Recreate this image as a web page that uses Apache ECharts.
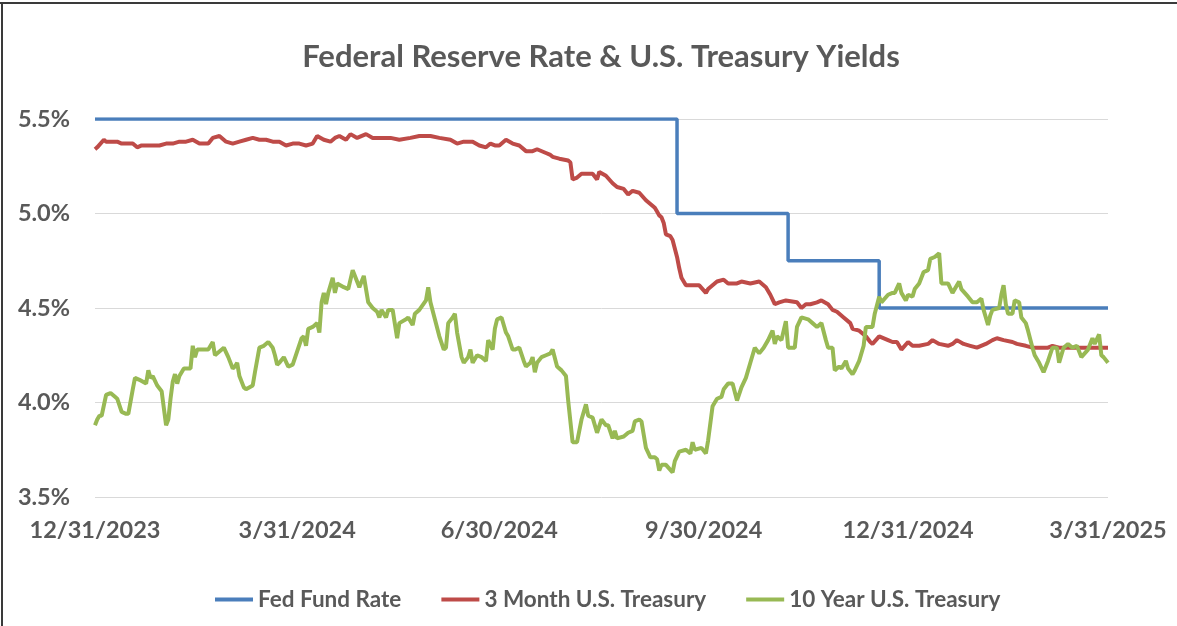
<!DOCTYPE html>
<html>
<head>
<meta charset="utf-8">
<script src="https://cdn.jsdelivr.net/npm/echarts@6/dist/echarts.min.js"></script>
<style>
    html, body { margin: 0; padding: 0; background: #fff; }
    #main { width: 1177px; height: 626px; }
</style>
</head>
<body>
<div id="main"></div>
<script>
// quarter-end ticks
var tickDates = ["2023-12-31", "2024-03-31", "2024-06-30", "2024-09-30", "2024-12-31", "2025-03-31"];

// Fed fund rate (upper bound), changes on FOMC dates
var fedDates = ["2023-12-31", "2024-09-18", "2024-11-07", "2024-12-18", "2025-03-31"];
var fedRates = [5.5, 5.0, 4.75, 4.5, 4.5];

// 3 month treasury, days counted from 12/31/2023
var threeMonthDays = [0, 1, 4, 5, 8, 10, 12, 14, 17, 19, 21, 23, 26, 29, 32, 35, 38, 41, 44, 47,
    51, 53, 56, 59, 62, 65, 68, 71, 74, 77, 80, 83, 86, 89, 92, 95, 98, 100, 103, 106,
    108, 110, 113, 115, 118, 122, 125, 128, 133, 137, 142, 146, 151, 155, 160, 163, 166, 170, 173, 176,
    178, 180, 182, 185, 188, 191, 194, 197, 199, 203, 205, 206, 209, 213, 214, 215, 217, 219, 221, 224,
    226, 227, 230, 233, 235, 238, 240, 242, 245, 248, 250, 252, 253, 254, 255, 256, 257, 259, 260, 262,
    263, 264, 266, 269, 272, 275, 276, 278, 280, 283, 285, 289, 291, 295, 299, 302, 304, 306, 308, 311,
    316, 318, 320, 322, 325, 327, 330, 332, 334, 337, 340, 341, 344, 347, 349, 350, 353, 357, 359, 361,
    363, 366, 368, 371, 375, 377, 380, 384, 386, 388, 391, 394, 397, 401, 404, 406, 409, 413, 415, 419,
    422, 425, 429, 431, 434, 438, 442, 447, 451, 456];
var threeMonthRates = [5.34, 5.35, 5.39, 5.38, 5.38, 5.38, 5.37, 5.37, 5.37, 5.35, 5.36, 5.36, 5.36, 5.36, 5.37, 5.37, 5.38, 5.38, 5.39, 5.37,
    5.37, 5.40, 5.41, 5.38, 5.37, 5.38, 5.39, 5.40, 5.39, 5.39, 5.38, 5.38, 5.36, 5.37, 5.37, 5.36, 5.37, 5.41, 5.39, 5.38,
    5.40, 5.41, 5.39, 5.42, 5.40, 5.42, 5.40, 5.40, 5.40, 5.39, 5.40, 5.41, 5.41, 5.40, 5.39, 5.37, 5.38, 5.38, 5.36, 5.35,
    5.37, 5.36, 5.36, 5.39, 5.37, 5.36, 5.33, 5.33, 5.34, 5.32, 5.31, 5.30, 5.29, 5.28, 5.27, 5.18, 5.19, 5.21, 5.21, 5.21,
    5.18, 5.22, 5.20, 5.16, 5.14, 5.13, 5.10, 5.12, 5.11, 5.07, 5.05, 5.03, 5.01, 4.99, 4.98, 4.95, 4.89, 4.88, 4.86, 4.77,
    4.71, 4.66, 4.62, 4.62, 4.62, 4.58, 4.60, 4.62, 4.64, 4.65, 4.63, 4.63, 4.64, 4.63, 4.64, 4.61, 4.57, 4.52, 4.53, 4.54,
    4.53, 4.50, 4.52, 4.52, 4.53, 4.54, 4.52, 4.49, 4.48, 4.45, 4.42, 4.39, 4.38, 4.35, 4.32, 4.31, 4.35, 4.33, 4.32, 4.32,
    4.28, 4.32, 4.30, 4.30, 4.31, 4.33, 4.31, 4.30, 4.31, 4.33, 4.31, 4.30, 4.29, 4.31, 4.33, 4.34, 4.33, 4.32, 4.31, 4.30,
    4.29, 4.29, 4.29, 4.30, 4.29, 4.29, 4.29, 4.29, 4.29, 4.29];

// 10 year treasury, days counted from 12/31/2023
var tenYearDays = [0, 1, 2, 3, 5, 7, 9, 10, 12, 14, 15, 17, 18, 20, 23, 24, 25, 26, 28, 30,
    32, 33, 34, 35, 36, 37, 38, 40, 43, 44, 45, 46, 49, 51, 53, 54, 56, 58, 60, 62,
    63, 64, 65, 67, 68, 71, 72, 74, 76, 78, 80, 81, 82, 83, 85, 87, 89, 91, 93, 94,
    95, 96, 98, 100, 101, 102, 103, 104, 105, 107, 108, 109, 112, 114, 116, 119, 121, 123, 125, 127,
    128, 129, 131, 132, 134, 136, 137, 140, 141, 143, 144, 146, 149, 150, 151, 153, 155, 157, 158, 159,
    161, 162, 163, 165, 166, 168, 169, 170, 172, 174, 176, 177, 179, 180, 181, 183, 185, 186, 188, 189,
    191, 193, 194, 196, 197, 198, 199, 201, 203, 205, 206, 208, 210, 212, 213, 215, 217, 219, 221, 222,
    224, 226, 228, 230, 231, 233, 234, 235, 238, 240, 242, 243, 245, 246, 248, 250, 252, 253, 254, 255,
    257, 260, 261, 263, 266, 268, 269, 270, 273, 275, 276, 278, 280, 282, 283, 285, 287, 289, 291, 293,
    295, 297, 299, 301, 303, 305, 306, 307, 309, 311, 312, 313, 315, 316, 318, 321, 323, 325, 327, 329,
    330, 332, 333, 335, 336, 338, 339, 341, 342, 344, 346, 347, 350, 351, 353, 354, 357, 359, 360, 362,
    363, 365, 366, 368, 369, 371, 373, 375, 376, 378, 380, 381, 383, 384, 386, 389, 390, 393, 395, 397,
    399, 400, 402, 403, 404, 407, 408, 409, 410, 411, 413, 414, 416, 417, 419, 420, 422, 423, 425, 427,
    429, 431, 433, 434, 436, 438, 440, 442, 444, 447, 449, 450, 452, 453, 454, 456];
var tenYearRates = [3.88, 3.91, 3.93, 3.93, 4.04, 4.05, 4.03, 4.02, 3.95, 3.94, 3.94, 4.07, 4.13, 4.12, 4.10, 4.17, 4.13, 4.14, 4.09, 4.06,
    3.88, 3.91, 4.02, 4.11, 4.15, 4.10, 4.14, 4.18, 4.18, 4.30, 4.24, 4.28, 4.28, 4.28, 4.32, 4.25, 4.27, 4.29, 4.24, 4.18,
    4.19, 4.21, 4.14, 4.08, 4.07, 4.09, 4.16, 4.29, 4.30, 4.32, 4.29, 4.25, 4.20, 4.21, 4.24, 4.19, 4.20, 4.27, 4.34, 4.35,
    4.30, 4.39, 4.40, 4.42, 4.37, 4.53, 4.58, 4.52, 4.58, 4.66, 4.58, 4.63, 4.61, 4.60, 4.70, 4.61, 4.67, 4.53, 4.50, 4.48,
    4.45, 4.49, 4.45, 4.49, 4.49, 4.34, 4.42, 4.44, 4.45, 4.41, 4.47, 4.49, 4.54, 4.61, 4.53, 4.44, 4.35, 4.28, 4.29, 4.42,
    4.45, 4.47, 4.37, 4.24, 4.21, 4.24, 4.28, 4.21, 4.25, 4.24, 4.22, 4.33, 4.28, 4.39, 4.44, 4.45, 4.37, 4.35, 4.28, 4.28,
    4.29, 4.22, 4.19, 4.21, 4.24, 4.16, 4.21, 4.24, 4.25, 4.26, 4.28, 4.19, 4.17, 4.14, 4.01, 3.79, 3.79, 3.91, 3.99, 3.93,
    3.92, 3.84, 3.91, 3.88, 3.88, 3.81, 3.85, 3.81, 3.82, 3.84, 3.85, 3.90, 3.91, 3.90, 3.76, 3.71, 3.71, 3.70, 3.64, 3.67,
    3.67, 3.63, 3.69, 3.74, 3.75, 3.73, 3.79, 3.75, 3.76, 3.73, 3.80, 3.98, 4.02, 4.03, 4.07, 4.10, 4.10, 4.01, 4.08, 4.13,
    4.21, 4.29, 4.26, 4.29, 4.33, 4.38, 4.31, 4.35, 4.33, 4.43, 4.29, 4.29, 4.29, 4.40, 4.45, 4.44, 4.42, 4.40, 4.42, 4.33,
    4.29, 4.29, 4.17, 4.19, 4.18, 4.22, 4.18, 4.15, 4.17, 4.22, 4.30, 4.40, 4.40, 4.47, 4.56, 4.53, 4.57, 4.58, 4.58, 4.63,
    4.58, 4.54, 4.57, 4.56, 4.60, 4.63, 4.69, 4.70, 4.76, 4.77, 4.79, 4.63, 4.63, 4.63, 4.58, 4.64, 4.60, 4.56, 4.53, 4.53,
    4.55, 4.49, 4.41, 4.46, 4.49, 4.50, 4.57, 4.62, 4.52, 4.47, 4.47, 4.54, 4.53, 4.45, 4.42, 4.38, 4.29, 4.25, 4.21, 4.16,
    4.22, 4.29, 4.29, 4.21, 4.29, 4.31, 4.29, 4.30, 4.24, 4.28, 4.34, 4.31, 4.36, 4.25, 4.24, 4.21];

var textColor = "#595959";
var fontName = "Lato, 'Open Sans', sans-serif";

// day number counted from 12/31/2023
function dateToDay(s) {
    var p = s.split("-");
    return Math.round((Date.UTC(+p[0], +p[1] - 1, +p[2]) - Date.UTC(2023, 11, 31)) / 86400000);
}

function dayLabel(d) {
    var t = new Date(Date.UTC(2023, 11, 31 + Math.round(d)));
    return (t.getUTCMonth() + 1) + "/" + t.getUTCDate() + "/" + t.getUTCFullYear();
}

function pairs(xs, ys) {
    var out = [];
    xs.forEach(function (x, i) {
        out.push([x, ys[i]]);
    });
    return out;
}

var tickDays = tickDates.map(dateToDay);
var chart = echarts.init(document.getElementById("main"), null, {renderer: "canvas"});

var option = {
    animation: false,
    backgroundColor: "#fff",
    color: ["#4a7ebb", "#be4b48", "#98b954"],
    title: {
        text: "Federal Reserve Rate & U.S. Treasury Yields",
        left: 596,
        textAlign: "center",
        top: 36,
        textStyle: {
            color: textColor,
            fontFamily: fontName,
            fontWeight: "bold",
            fontSize: 31
        }
    },
    legend: {
        bottom: 10,
        left: 210,
        icon: "rect",
        itemWidth: 38,
        itemHeight: 4,
        itemGap: 40,
        textStyle: {
            color: textColor,
            fontFamily: fontName,
            fontWeight: "bold",
            fontSize: 22.5
        },
        data: ["Fed Fund Rate", "3 Month U.S. Treasury", "10 Year U.S. Treasury"]
    },
    grid: {
        left: 95,
        right: 69,
        top: 119,
        bottom: 129
    },
    xAxis: {
        type: "value",
        min: tickDays[0],
        max: tickDays[tickDays.length - 1],
        axisLine: {show: false},
        axisTick: {show: false},
        splitLine: {show: false},
        axisLabel: {
            customValues: tickDays,
            showMinLabel: true,
            showMaxLabel: true,
            margin: 21,
            color: textColor,
            fontFamily: fontName,
            fontWeight: "bold",
            fontSize: 23.5,
            formatter: dayLabel
        }
    },
    yAxis: {
        type: "value",
        min: 3.5,
        max: 5.5,
        interval: 0.5,
        axisLine: {show: false},
        axisTick: {show: false},
        splitLine: {lineStyle: {color: "#d9d9d9", width: 1}},
        axisLabel: {
            margin: 25,
            color: textColor,
            fontFamily: fontName,
            fontWeight: "bold",
            fontSize: 23.5,
            formatter: function (v) {
                return v.toFixed(1) + "%";
            }
        }
    },
    series: [
        {
            name: "Fed Fund Rate",
            type: "line",
            step: "end",
            showSymbol: false,
            lineStyle: {width: 3.5},
            data: pairs(fedDates.map(dateToDay), fedRates)
        },
        {
            name: "3 Month U.S. Treasury",
            type: "line",
            showSymbol: false,
            lineStyle: {width: 4},
            data: pairs(threeMonthDays, threeMonthRates)
        },
        {
            name: "10 Year U.S. Treasury",
            type: "line",
            showSymbol: false,
            lineStyle: {width: 4},
            data: pairs(tenYearDays, tenYearRates)
        }
    ],
    graphic: [
        // frame edges visible in the source image
        {type: "rect", shape: {x: 0, y: 2, width: 1177, height: 2}, style: {fill: "#3a3a3a"}},
        {type: "rect", shape: {x: 1, y: 2, width: 2, height: 624}, style: {fill: "#3a3a3a"}}
    ]
};

chart.setOption(option);
</script>
</body>
</html>
